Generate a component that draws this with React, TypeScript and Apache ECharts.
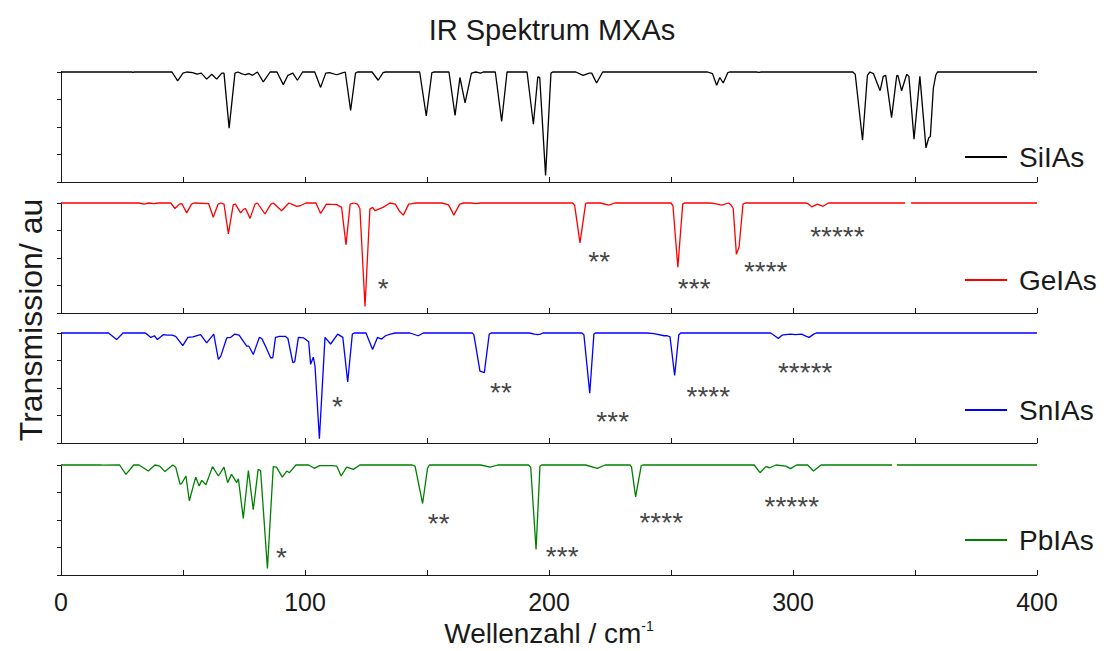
import React, { useEffect, useRef } from "react";
import * as echarts from "echarts";

type Pt = [number, number | null];
type Mark = [number, number, string];

// Wavenumber (cm^-1), relative transmission (1 = baseline)
const SI_IAS: Pt[] = [
  [0, 1], [29, 1], [29.5, 0.997], [30, 1], [45.5, 1], [47.8, 0.92], [50, 0.99], [51.5, 1], [54, 0.995],
  [55.7, 0.98], [57.5, 0.99], [59.7, 0.935], [61.8, 0.98], [63.8, 0.935], [65.9, 0.99], [66.8, 0.99],
  [68.9, 0.49], [71.3, 0.99], [72.5, 1], [74, 0.985], [75.4, 0.975], [77, 0.985], [78.5, 0.97], [80.5, 1],
  [82.9, 0.91], [85.7, 1], [88.5, 1], [91.1, 0.885], [93, 0.97], [95, 0.99], [96.9, 0.925], [99, 1],
  [104, 1], [106.4, 0.86], [108.5, 0.99], [110, 0.995], [113, 0.975], [115, 0.99], [116.5, 1],
  [118.7, 0.65], [120.7, 0.99], [121.5, 1], [127.5, 1], [130, 0.925], [132, 0.995], [133, 1], [147, 1],
  [149.7, 0.6], [152, 0.995], [153, 1], [159, 1], [161.5, 0.606], [163.5, 0.95], [165.6, 0.72],
  [168.2, 0.99], [170, 1], [172, 0.99], [173, 1], [178, 1], [180.6, 0.55], [182.8, 1], [191, 1],
  [193.6, 0.525], [195.4, 0.955], [196.2, 0.95], [198.6, 0.06], [200.8, 0.99], [201.5, 1], [211, 1],
  [214, 0.97], [216.5, 0.99], [217.5, 0.99], [219.5, 0.9], [222, 1], [265, 1], [267, 0.985],
  [268.7, 0.88], [270, 0.95], [271.4, 0.9], [273.3, 0.995], [274, 1], [285, 1], [286, 0.997], [287, 1],
  [324.5, 1], [325.5, 0.98], [328.5, 0.38], [330.5, 0.97], [331.5, 1], [333, 0.985], [335.7, 0.83],
  [337, 0.96], [338, 0.97], [340.4, 0.585], [342.5, 0.965], [343, 0.97], [344.5, 0.83], [346.6, 0.98],
  [347.5, 0.96], [349.6, 0.39], [352, 0.96], [354.5, 0.31], [355.6, 0.4], [356.3, 0.415], [357.5, 0.85],
  [358.5, 0.97], [359.2, 1], [400, 1],
];

const GE_IAS: Pt[] = [
  [0, 1], [32, 1], [34, 0.99], [36, 1], [38, 0.995], [40, 1], [45, 1], [46.7, 0.95], [48.5, 0.99],
  [49.5, 0.995], [51.5, 0.91], [53.5, 0.99], [54.5, 1], [60.5, 0.995], [62.4, 0.87], [64.4, 0.99],
  [65.5, 1], [66.8, 0.99], [68.6, 0.72], [70.6, 0.985], [71.5, 0.99], [73.6, 0.91], [74.9, 0.945],
  [75.6, 0.95], [77.5, 0.86], [79.5, 0.99], [80.5, 1], [83.6, 0.9], [86, 0.99], [87, 1], [90.4, 0.93],
  [93.4, 1], [95, 0.985], [96.6, 0.97], [98, 0.975], [100.4, 1], [104.5, 1], [106.4, 0.905],
  [108.8, 0.99], [113, 0.985], [115, 0.96], [116.8, 0.62], [118.5, 0.99], [120, 1], [121.5, 0.99],
  [122.5, 0.95], [124.6, 0.06], [126.6, 0.945], [127.7, 0.96], [128.7, 0.93], [132, 0.96], [134.8, 1],
  [137, 0.99], [138.9, 0.92], [140.3, 0.89], [142.5, 0.99], [144, 0.995], [145.5, 1], [156, 1],
  [158.7, 0.985], [159.4, 0.96], [161, 0.89], [163.4, 0.99], [165, 1], [168, 1], [170, 0.995], [172, 1],
  [209.6, 1], [210.5, 0.98], [212.7, 0.638], [215, 0.995], [215.5, 1], [221, 1], [224.5, 0.98], [227, 1],
  [250, 1], [250.8, 0.975], [252.8, 0.416], [254.8, 0.99], [255.5, 1], [266, 1], [268, 0.995],
  [270.8, 0.98], [273.6, 1], [274.5, 0.985], [275.5, 0.95], [276.8, 0.533], [277.9, 0.6], [279.5, 0.99],
  [280.5, 1], [305, 1], [306, 0.995], [307.7, 0.965], [310, 0.99], [312.3, 0.97], [314.5, 1], [346, 1],
  [347.2, null], [348.4, 1], [400, 1],
];

const SN_IAS: Pt[] = [
  [0, 1], [19.5, 1], [22.8, 0.94], [25.4, 1], [34.5, 1], [35.5, 0.985], [36.8, 0.96], [38.3, 0.975],
  [39.5, 0.94], [41.9, 0.985], [43.5, 0.98], [45.5, 0.98], [47, 0.97], [49.9, 0.885], [52, 0.96],
  [54, 0.965], [57.2, 0.985], [59.7, 0.91], [62.6, 0.99], [64.5, 0.76], [65.5, 0.79], [67.9, 0.955],
  [69.5, 0.96], [71.2, 0.99], [73, 0.98], [76.1, 0.88], [77, 0.88], [78.8, 0.805], [81.3, 0.96],
  [82.3, 0.95], [83.6, 0.89], [85.9, 0.775], [86.8, 0.775], [87.9, 0.96], [89.5, 0.97], [91.9, 0.97],
  [93, 0.95], [95, 0.73], [95.8, 0.74], [97.3, 0.96], [99.5, 0.955], [101.5, 0.92], [102.3, 0.715],
  [103.4, 0.78], [104.1, 0.7], [105.9, 0.04], [108.2, 0.96], [110.5, 0.9], [113.4, 0.99], [115.5, 0.96],
  [117.5, 0.555], [119.4, 0.99], [120.2, 1], [125, 1], [127.7, 0.85], [129.7, 0.96], [131.4, 0.945],
  [133, 0.975], [135, 0.99], [137, 1], [143, 1], [146.4, 0.975], [148.5, 1], [168.5, 1], [169.2, 0.985],
  [171.7, 0.653], [173.5, 0.64], [175.5, 0.99], [176.3, 1], [192, 1], [194, 0.99], [195.4, 0.985],
  [196.5, 0.99], [197.5, 1], [213.5, 1], [214.3, 0.985], [216.7, 0.452], [218.4, 0.99], [219, 1],
  [240, 1], [243, 0.995], [247.2, 0.975], [248.5, 0.975], [249.6, 0.965], [251.5, 0.614], [253.2, 0.985],
  [254, 1], [290.8, 1], [292.2, 0.98], [294, 0.95], [295.5, 0.98], [297, 0.985], [299, 0.99],
  [301, 0.985], [303.5, 0.99], [305.5, 0.97], [306.6, 0.96], [308.5, 0.99], [309.5, 1], [400, 1],
];

const PB_IAS: Pt[] = [
  [0, 1], [16, 1], [17, 0.998], [24, 1], [26.6, 0.915], [29.8, 1], [32, 1], [35.8, 0.945], [38.5, 1],
  [40.5, 0.99], [42.6, 0.94], [45.8, 1], [47, 0.98], [48.8, 0.825], [49.4, 0.83], [51.2, 0.9],
  [52.6, 0.675], [55.2, 0.89], [56.6, 0.81], [57.7, 0.86], [59.4, 0.82], [62.1, 0.985], [64.5, 0.9],
  [66.8, 0.98], [68.3, 0.84], [69.9, 0.915], [72, 0.84], [72.7, 0.875], [74.7, 0.515], [76.8, 0.95],
  [78.8, 0.595], [80.8, 0.96], [81.8, 0.95], [84.6, 0.06], [87, 0.985], [88.3, 0.98], [90.7, 0.89],
  [92.5, 0.945], [93.6, 0.93], [96.3, 1], [101.5, 1], [103.8, 0.97], [106, 0.995], [111, 0.995],
  [113, 0.99], [114.8, 0.9], [117.1, 0.98], [119.8, 0.96], [122.5, 1], [144, 1], [145.1, 0.99],
  [148.2, 0.65], [150.2, 0.97], [151, 1], [172, 1], [175.9, 0.98], [179, 1], [191.6, 1], [192.5, 0.98],
  [194.7, 0.233], [196.3, 0.99], [197, 1], [215, 1], [219.8, 0.97], [223, 1], [233.2, 1], [233.8, 0.985],
  [235.5, 0.71], [237.8, 0.995], [238.5, 1], [284.1, 1], [286.5, 0.93], [288.9, 0.985], [290.5, 0.975],
  [293, 1], [297, 0.99], [299, 0.967], [301.5, 1], [306, 1], [308.4, 0.945], [311.5, 1], [340.6, 1],
  [341.6, null], [342.6, 1], [400, 1],
];

// Band annotations: wavenumber, transmission, text
const GE_MARKS: Mark[] = [
  [132.1, 0.28, "*"], [220.6, 0.527, "**"], [259.5, 0.28, "***"], [288.8, 0.434, "****"], [318.2, 0.747, "*****"],
];
const SN_MARKS: Mark[] = [
  [113.3, 0.39, "*"], [180.3, 0.51, "**"], [226.1, 0.247, "***"], [265.3, 0.473, "****"], [305, 0.693, "*****"],
];
const PB_MARKS: Mark[] = [
  [90.4, 0.21, "*"], [154.8, 0.52, "**"], [205.4, 0.22, "***"], [246, 0.53, "****"], [299.5, 0.674, "*****"],
];

const SERIES_NAMES = ["SiIAs", "GeIAs", "SnIAs", "PbIAs"];
const SERIES_DATA = [SI_IAS, GE_IAS, SN_IAS, PB_IAS];
const SERIES_MARKS: Mark[][] = [[], GE_MARKS, SN_MARKS, PB_MARKS];
const SERIES_COLORS = ["#000000", "#ff0000", "#0000ff", "#008000"];
const X_TICK_LABELS = [0, 100, 200, 300, 400];

const TITLE = "IR Spektrum MXAs";
const Y_NAME = "Transmission/ au";

const FONT = "'Liberation Sans', Arial, Helvetica, sans-serif";
const INK = "#1a1a1a";
const PANEL_TOPS = [72, 203, 333, 465];
const PANEL_H = 110;
const LEGEND_TOPS = [138, 261, 391, 521];

export default function App() {
  const ref = useRef<HTMLDivElement>(null);

  useEffect(() => {
    if (!ref.current) return;
    const chart = echarts.init(ref.current, undefined, { renderer: "svg" });

    const grid = PANEL_TOPS.map((t) => ({ left: 61, right: 67, top: t, height: PANEL_H }));

    const xAxis = PANEL_TOPS.map((_, i) => ({
      type: "value",
      gridIndex: i,
      min: 0,
      max: 400,
      interval: 50,
      axisLine: { show: true, onZero: false, lineStyle: { color: INK, width: 1 } },
      axisTick: { show: true, inside: true, length: 5, lineStyle: { color: INK } },
      splitLine: { show: false },
      axisLabel: {
        show: i === 3,
        margin: 14,
        fontSize: 25,
        color: INK,
        fontFamily: FONT,
        formatter: (v: number) => (X_TICK_LABELS.includes(v) ? String(v) : ""),
      },
      ...(i === 3
        ? {
            name: "Wellenzahl / cm{sup|-1}",
            nameLocation: "middle",
            nameGap: 44,
            nameTextStyle: {
              fontSize: 28,
              color: INK,
              fontFamily: FONT,
              rich: { sup: { fontSize: 14, verticalAlign: "top", color: INK, fontFamily: FONT, padding: [0, 0, 14, 0] } },
            },
          }
        : {}),
    }));

    const yAxis = PANEL_TOPS.map((_, i) => ({
      type: "value",
      gridIndex: i,
      min: 0,
      max: 1,
      interval: 0.25,
      axisLine: { show: true, onZero: false, lineStyle: { color: INK, width: 1 } },
      axisTick: { show: true, inside: false, length: 4, lineStyle: { color: INK } },
      axisLabel: { show: false },
      splitLine: { show: false },
    }));

    const lineSeries = SERIES_DATA.map((d, i) => ({
      type: "line",
      name: SERIES_NAMES[i],
      xAxisIndex: i,
      yAxisIndex: i,
      data: d,
      showSymbol: false,
      connectNulls: false,
      clip: false,
      color: SERIES_COLORS[i],
      lineStyle: { color: SERIES_COLORS[i], width: 1.3 },
      z: 3,
    }));

    const markSeries = SERIES_MARKS.map((m, i) => ({
      type: "scatter",
      name: "marks" + i,
      xAxisIndex: i,
      yAxisIndex: i,
      symbolSize: 1,
      itemStyle: { color: "rgba(0,0,0,0)" },
      silent: true,
      data: m.map(([x, y, t]) => ({ value: [x, y], name: t })),
      label: {
        show: true,
        position: "inside",
        formatter: "{b}",
        fontSize: 28,
        color: "#111111",
        fontFamily: FONT,
        offset: [0, 6],
      },
      z: 4,
    }));

    const legend = SERIES_NAMES.map((n, i) => ({
      data: [n],
      left: 960,
      top: LEGEND_TOPS[i],
      icon: "rect",
      itemWidth: 42,
      itemHeight: 2,
      textStyle: { fontSize: 28, color: INK, fontFamily: FONT, padding: [0, 0, 0, 7] },
      selectedMode: false,
    }));

    chart.setOption({
      animation: false,
      backgroundColor: "#ffffff",
      title: {
        text: TITLE,
        left: "center",
        top: 10,
        textStyle: { fontSize: 29, fontWeight: "normal", color: INK, fontFamily: FONT },
      },
      legend,
      grid,
      xAxis,
      yAxis,
      series: [...lineSeries, ...markSeries],
      graphic: [
        {
          type: "text",
          x: 31,
          y: 320,
          rotation: Math.PI / 2,
          style: {
            text: Y_NAME,
            fontSize: 32,
            fill: INK,
            fontFamily: FONT,
            align: "center",
            verticalAlign: "middle",
          },
        },
      ],
    });

    return () => chart.dispose();
  }, []);

  return (
    <div
      ref={ref}
      style={{ position: "fixed", left: 0, top: 0, width: 1104, height: 651, background: "#fff" }}
    />
  );
}
